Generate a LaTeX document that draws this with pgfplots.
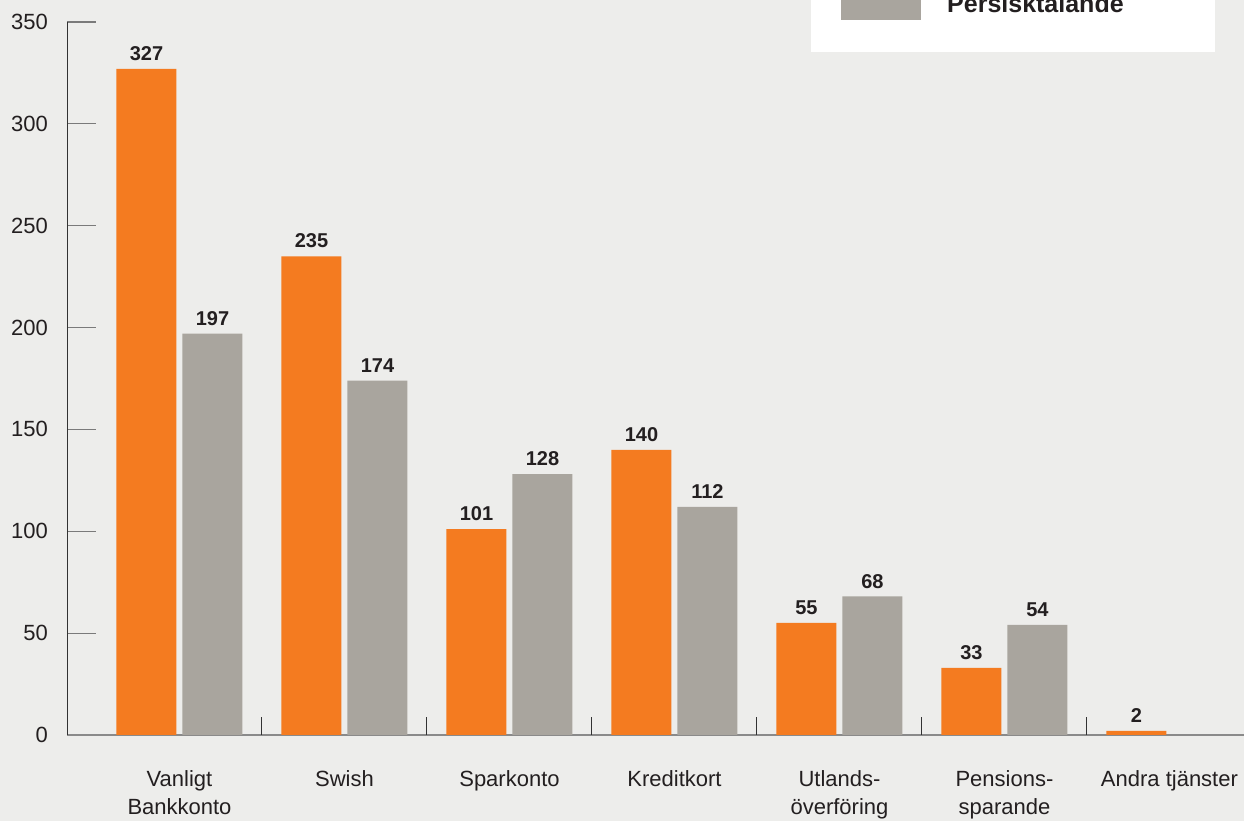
\documentclass[border=0pt]{standalone}
\usepackage{fontspec}
\setmainfont{Liberation Sans}
\usepackage{pgfplots}
\pgfplotsset{compat=1.18}
\definecolor{bg}{HTML}{EDEDEB}
\definecolor{orng}{HTML}{F47B20}
\definecolor{gry}{HTML}{A9A59E}
\definecolor{txt}{HTML}{231F20}
\definecolor{yaxis}{HTML}{333333}
\definecolor{tickgray}{HTML}{7A7A7A}
\definecolor{xaxis}{HTML}{8A8A8A}
\begin{document}
\begin{tikzpicture}[x=1pt,y=1pt]
\path[use as bounding box] (0,0) rectangle (1244,821);
\fill[bg] (0,0) rectangle (1244,821);
\clip (0,0) rectangle (1244,821);
\begin{axis}[
  at={(67pt,86pt)}, anchor=south west,
  scale only axis, width=1177pt, height=713pt,
  xmin=-0.6818, xmax=6.4515, ymin=0, ymax=350,
  axis x line=bottom, axis y line=left,
  x axis line style={-, draw=xaxis, line width=1.2pt},
  y axis line style={-, draw=yaxis, line width=1pt},
  /pgf/number format/assume math mode=true,
  tick align=inside,
  xtick align=inside,
  ytick align=inside,
  major tick length=29pt,
  ytick={0,50,...,350},
  ytick style={draw=tickgray, line width=1.2pt},
  yticklabel style={font=\fontsize{22}{26}\selectfont, text=txt, inner sep=0pt, anchor=east, xshift=-19pt},
  xtick={0,...,6},
  xtick style={draw=none},
  xticklabels={{Vanligt\\Bankkonto},Swish,Sparkonto,Kreditkort,{Utlands-\\överföring},{Pensions-\\sparande},Andra tjänster},
  xticklabel style={font=\fontsize{22}{28}\selectfont, text=txt, align=center, anchor=north, inner sep=0pt, yshift=-6pt},
  extra x ticks={0.5,1.5,2.5,3.5,4.5,5.5},
  extra x tick labels={},
  extra x tick style={xtick align=inside, major tick length=18pt, xtick style={draw=yaxis, line width=1pt}},
  bar width=60pt, ybar=6pt,
  nodes near coords,
  every node near coord/.append style={font=\bfseries\fontsize{20}{24}\selectfont, text=txt, inner sep=0pt, anchor=south, yshift=8pt},
  clip=false,
]
\addplot[fill=orng, draw=none] coordinates {(0,327)(1,235)(2,101)(3,140)(4,55)(5,33)(6,2)};
\addplot[fill=gry, draw=none] coordinates {(0,197)(1,174)(2,128)(3,112)(4,68)(5,54)};
\end{axis}
\fill[white] (811,769) rectangle (1215,840);
\fill[gry] (841,801) rectangle (921,840);
\node[anchor=base west, inner sep=0pt, font=\bfseries\fontsize{25}{30}\selectfont, text=txt] at (947,808) {Persisktalande};
\end{tikzpicture}
\end{document}
